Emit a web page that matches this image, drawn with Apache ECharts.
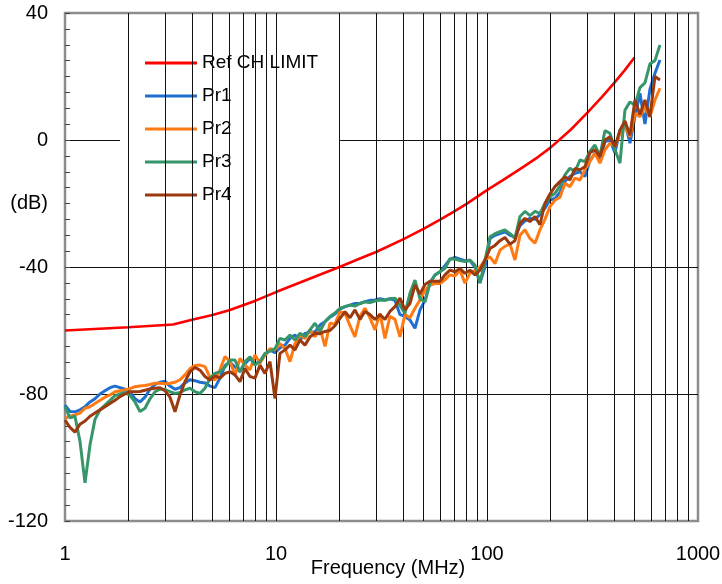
<!DOCTYPE html>
<html><head><meta charset="utf-8">
<script src="https://cdn.jsdelivr.net/npm/echarts@6/dist/echarts.min.js"></script>
<style>html,body{margin:0;padding:0;background:#fff}#c{width:722px;height:584px}</style>
</head><body><div id="c"></div>
<script>
// Frequency grid (MHz)
var freqs = [1,1.056,1.115,1.178,1.244,1.314,1.387,1.465,1.547,1.634,1.726,1.823,1.925,2.033,2.147,2.267,2.394,2.528,2.670,2.820,
2.978,3.145,3.321,3.507,3.704,3.911,4.131,4.363,4.607,4.865,5.138,5.427,5.731,6.052,6.391,6.750,7.128,7.528,7.950,8.395,
8.866,9.365,9.889,10.44,11.03,11.65,12.30,12.99,13.72,14.49,15.30,16.16,17.07,18.02,19.03,20.10,21.23,22.42,23.67,25.00,
26.40,27.88,29.45,31.10,32.84,34.68,36.63,38.68,40.85,43.14,45.56,48.13,50.82,53.67,56.68,59.86,63.22,66.76,70.50,74.45,
78.62,83.03,87.69,92.60,97.79,103.3,109.1,115.2,121.6,128.5,135.7,143.3,151.3,159.8,168.8,178.2,188.2,198.8,209.9,221.7,
234.1,247.3,261.1,275.8,291.2,307.6,324.8,343.0,362.3,382.6,404.0,426.7,450.6,475.9,502.6,530.7,560.5,591.9,625.1,660.2];

var pr1 = [-83.5,-85.5,-85.6,-85,-84,-82.5,-81.5,-80,-79,-78,-77.5,-78,-78.5,-79.5,-81.5,-82.5,-81,-78.5,-77,-76.3,-76,-77.5,-78.5,-78,-76.5,-75.5,-75.8,-76.3,
-76.5,-77.5,-78,-75,-71,-70,-71.5,-73,-70.5,-68.8,-70.5,-69.8,-67.7,-66.1,-67,-65.5,-64.6,-62.5,-61.4,-63,-60.9,-60.5,-60.5,-58.3,-57.2,
-55.8,-54.8,-53.3,-52.5,-52,-51.5,-51.5,-50.9,-50.5,-50.4,-50,-50.4,-50,-50.5,-55,-55.5,-56.7,-59.3,-53.5,-50.5,-45,-42.5,-41.5,-39.6,-37.5,
-37,-37.5,-38,-38,-40,-45,-40,-31,-30,-29.5,-28.9,-30,-30.5,-27,-25.5,-24.7,-25,-23.5,-21.5,
-18.9,-18.4,-16.5,-13,-11.5,-10.5,-10,-11.5,-6.5,-4.2,-6.5,-0.5,0,-4,3,5.5,-1,7.3,14.7,5,16,21,25.2];

var pr2 = [-87.6,-87,-86.6,-86,-84.5,-84,-83,-82,-81,-80.3,-79.3,-79,-78.7,-78.3,-77.7,-77.5,-77.3,-77,-76.6,-76.6,-76.8,-76.6,-76.3,-75.5,-74,-72,-71,-70.9,
-71.4,-74.8,-75.6,-72.4,-68.2,-69.8,-74,-68.8,-70.9,-72.4,-67.7,-70.3,-67.7,-65.7,-66.1,-64.1,-65.7,-69.8,-64.1,-61.4,-62.5,-59.8,-62,-59.3,-65,
-57.7,-58,-54.1,-54.6,-58.5,-62,-55.5,-53,-56,-59.8,-54.6,-62.5,-55.5,-56.5,-62,-55,-56,-53,-50.4,-47.3,-45.7,-45.2,-45.2,-44,-42.5,
-42.8,-41,-45.1,-42,-41,-40,-37.8,-36.8,-38.9,-34.7,-33.5,-32.8,-37.8,-30,-28.3,-31,-32.5,-28.3,-25,
-21,-19,-18,-13.6,-14.7,-12,-12.6,-9.4,-6.8,-4.2,-7.3,-3.1,-1,-2.1,2.1,4.2,1,8.4,7.3,10.5,7.3,12.6,16.3];

var pr3 = [-84,-87.5,-87,-95,-108,-96,-88,-85,-83.5,-82,-80.5,-80,-79.5,-80.5,-82.5,-85.5,-84.5,-81.5,-79.3,-78.5,-78.5,-79.3,-79.8,-79.5,-78.7,-78.2,-79.3,-79.8,
-78.2,-75,-73.5,-73,-71.5,-69.3,-69.3,-73,-69.8,-68.3,-70.9,-69.8,-67.2,-66.5,-65.7,-62.5,-63,-61.4,-63,-60.9,-61.9,-59.8,-57.7,-60.3,-57.2,
-55.6,-54.5,-53,-52.5,-52,-52.3,-51.5,-51,-51.2,-50.7,-50.4,-50.5,-50,-49.8,-52,-54.6,-48.3,-44.1,-50,-51,-45,-42.5,-41.5,-40.5,-37.5,
-37.5,-38,-38.3,-37.8,-39.4,-45.1,-38,-30.5,-29.5,-28.9,-28.3,-29.5,-31,-24.1,-22.5,-23.8,-22.5,-23.1,-20,
-17.9,-16.8,-14.5,-11,-8.9,-10,-6.3,-6.8,-3.5,-1.6,-5,3,2.1,-3,-7.3,9.4,12,11,16.5,18,24,25,29.9];

var pr4 = [-88.2,-90.5,-92,-89.5,-88.5,-87,-86,-85,-84,-83,-82,-80.8,-80,-79.3,-79.3,-79.2,-78.8,-78.4,-78.2,-78,-79,-81,-85.6,-80.3,-76.1,-73,-71.6,-72.5,
-74.5,-75.6,-74.3,-75,-73.5,-73,-74,-76.1,-72,-74.5,-75,-70.9,-73.5,-69.8,-81.4,-67.2,-66.1,-64.6,-66.1,-63,-64.6,-62,-60.9,-61,-60.3,
-60,-58.5,-56.2,-54.1,-56,-53.5,-56.5,-54,-55,-56.5,-55,-56.5,-54,-52.5,-49.8,-53.5,-51.5,-45.7,-48.5,-45.5,-44.5,-44.5,-44.5,-42.5,-41,
-41.5,-40.5,-42,-41,-42.5,-41,-37.8,-34.2,-33.2,-31.7,-30.7,-32.8,-31.7,-26.2,-24.7,-25.7,-24.1,-26.7,-20,
-17,-14.7,-13.1,-11.6,-12.6,-9,-9.4,-8.4,-4,-3.1,-5.2,0,1,-2.1,3.1,6,1.5,12.6,8,12.6,7.3,20,18.9];

// Reference channel limit (MHz, dB)
var limitFreqs = [1,2,3.25,4,5,6,8,10,13,16,20,25,30,40,50,60,70,80,100,120,150,175,200,250,300,350,400,450,500];
var limitVals  = [-60,-59,-58.1,-56.6,-55.1,-53.6,-50.6,-47.9,-44.9,-42.5,-40,-37.3,-35.2,-31.3,-28,-25.1,-22.5,-20.1,-15.8,-12.5,-8.3,-5.3,-2.4,3.3,8.7,13.5,17.9,22,26];

var seriesNames = ['Ref CH LIMIT','Pr1','Pr2','Pr3','Pr4'];
var yLabels = {'-120':'-120','-80':'-80','-40':'-40','0':'0','40':'40','-20':'(dB)'};
var gridFreqs = [2,3,4,5,6,7,8,9,10,20,30,40,50,60,70,80,90,100,200,300,400,500,600,700,800,900];

var colors = ['#FF0000','#1E6FD0','#FF7A12','#36966A','#9A3A0E'];
var font = 'Liberation Sans, Arial, sans-serif';

function pairs(xs, ys){ return xs.map(function(x,i){return [x, ys[i]];}); }

var chart = echarts.init(document.getElementById('c'), null, {renderer:'canvas'});
var lineSeries = [
  {name:seriesNames[0], data:pairs(limitFreqs, limitVals)},
  {name:seriesNames[1], data:pairs(freqs, pr1)},
  {name:seriesNames[2], data:pairs(freqs, pr2)},
  {name:seriesNames[3], data:pairs(freqs, pr3)},
  {name:seriesNames[4], data:pairs(freqs, pr4)}
].map(function(s, i){
  return {name:s.name, type:'line', data:s.data, showSymbol:false, symbol:'none',
    lineStyle:{color:colors[i], width:i===0?2.6:3}, itemStyle:{color:colors[i]}, z:3+i, animation:false};
});

var option = {
  animation:false,
  backgroundColor:'#fff',
  grid:{left:65, right:24, top:13, bottom:63, outerBoundsMode:'none', containLabel:false,
    show:true, borderColor:'#8c8c8c', borderWidth:2.5, backgroundColor:'transparent'},
  legend:{
    data:seriesNames, orient:'vertical', left:120, top:48,
    padding:[5,22,10,25], backgroundColor:'#fff',
    icon:'rect', itemWidth:52, itemHeight:3, itemGap:13,
    textStyle:{fontFamily:font, fontSize:19, lineHeight:20, color:'#000'}
  },
  xAxis:{
    type:'log', logBase:10, min:1, max:1000,
    name:'Frequency (MHz)', nameLocation:'middle', nameGap:37, nameMoveOverlap:false,
    nameTextStyle:{fontFamily:font, fontSize:20, color:'#000', padding:[0,0,0,13]},
    axisLine:{show:false}, axisTick:{show:false},
    axisLabel:{fontFamily:font, fontSize:20, color:'#000', margin:23,
      formatter:function(v){ return String(Math.round(v)); }},
    splitLine:{show:false}
  },
  yAxis:[{
    type:'value', min:-120, max:40, interval:20,
    axisLine:{show:false},
    axisTick:{show:true, inside:true, length:5, lineStyle:{color:'#444', width:1}},
    minorTick:{show:true, splitNumber:4, length:5, lineStyle:{color:'#444', width:1}},
    axisLabel:{fontFamily:font, fontSize:20, color:'#000', margin:17,
      formatter:function(v){ var k=String(v); return yLabels.hasOwnProperty(k)?yLabels[k]:''; }},
    splitLine:{show:false}
  },{
    type:'value', min:-120, max:40, interval:40, position:'left',
    axisLine:{show:false}, axisTick:{show:false}, axisLabel:{show:false},
    splitLine:{show:true, showMinLine:false, showMaxLine:false, lineStyle:{color:'#111', width:1}}
  }],
  series:[{
    name:'grid', type:'line', data:[], z:1, silent:true,
    markLine:{silent:true, symbol:'none', animation:false, label:{show:false},
      lineStyle:{color:'#111', width:1, type:'solid'},
      emphasis:{disabled:true},
      data:gridFreqs.map(function(f){return {xAxis:f};})}
  }].concat(lineSeries)
};
chart.setOption(option);
</script>
</body></html>
